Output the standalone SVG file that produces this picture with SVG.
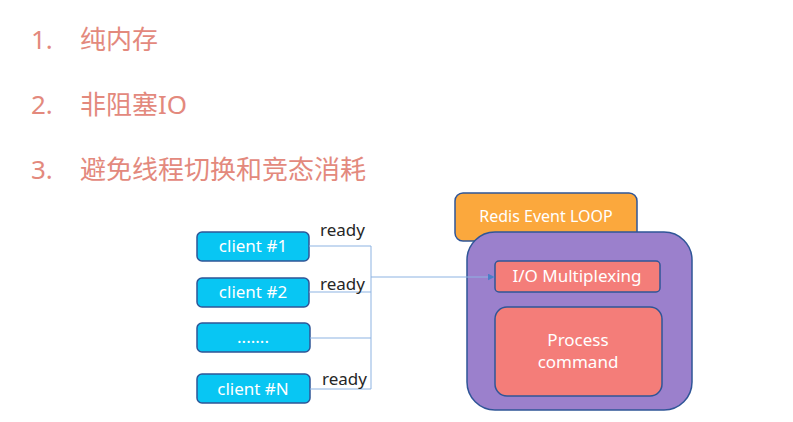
<svg xmlns="http://www.w3.org/2000/svg" width="793" height="422" viewBox="0 0 793 422">
<defs>
<style>
.list{font-family:"Noto Sans","Noto Sans CJK SC",sans-serif;font-size:26px;fill:#E3897D;}
.client rect{fill:#08C6F3;stroke:#2F5597;stroke-width:1.5;}
.wt{font-family:"Noto Sans","Open Sans",sans-serif;font-size:17px;fill:#FFFFFF;text-anchor:middle;}
.rd{font-family:"Noto Sans","Open Sans",sans-serif;font-size:17px;fill:#262626;}
.con{fill:none;stroke:#8DB3E2;stroke-width:1;}
</style>
<marker id="arr" viewBox="0 0 10 10" refX="9" refY="5" markerWidth="7" markerHeight="7" orient="auto" markerUnits="userSpaceOnUse">
<path d="M0,0 L10,5 L0,10 z" fill="#4A7EC7"/>
</marker>
</defs>
<rect width="793" height="422" fill="#FFFFFF"/>
<g id="list">
<text class="list" x="31" y="49">1.</text><text class="list" x="80" y="49">纯内存</text>
<text class="list" x="31" y="114">2.</text><text class="list" x="80" y="114">非阻塞IO</text>
<text class="list" x="31" y="179">3.</text><text class="list" x="80" y="179">避免线程切换和竞态消耗</text>
</g>
<g id="client1" class="client"><rect x="197" y="232" width="112" height="29" rx="5"/><text class="wt" x="253" y="252">client #1</text></g>
<g id="client2" class="client"><rect x="197" y="278" width="112" height="29" rx="5"/><text class="wt" x="253" y="298">client #2</text></g>
<g id="client3" class="client"><rect x="197" y="323" width="113" height="29" rx="5"/><text class="wt" x="253" y="343">.......</text></g>
<g id="clientN" class="client"><rect x="197" y="374" width="113" height="29" rx="5"/><text class="wt" x="253" y="395">client #N</text></g>
<g id="eventloop"><rect x="455" y="193" width="182" height="48" rx="8" fill="#FBA83D" stroke="#2F5597" stroke-width="1.5"/><text class="wt" x="546" y="222" style="font-size:16px">Redis Event LOOP</text></g>
<g id="loopbody"><rect x="467" y="232" width="225" height="178" rx="28" fill="#9B80CC" stroke="#2F5597" stroke-width="1.5"/></g>
<g id="iomux"><rect x="495" y="261" width="165" height="31" rx="4" fill="#F47D79" stroke="#2F5597" stroke-width="1.5"/><text class="wt" x="577" y="282">I/O Multiplexing</text></g>
<g id="process"><rect x="495" y="307" width="167" height="89" rx="12" fill="#F47D79" stroke="#2F5597" stroke-width="1.5"/><text class="wt" x="578" y="346">Process</text><text class="wt" x="578" y="368">command</text></g>
<g id="connectors">
<path class="con" d="M309,246 H371 M309,292 H371 M310,338 H371 M310,389 H371 M371,246 V389"/>
<path class="con" d="M371,277 H494" marker-end="url(#arr)"/>
<text class="rd" x="320" y="236">ready</text>
<text class="rd" x="320" y="290">ready</text>
<text class="rd" x="322" y="385">ready</text>
</g>
</svg>
